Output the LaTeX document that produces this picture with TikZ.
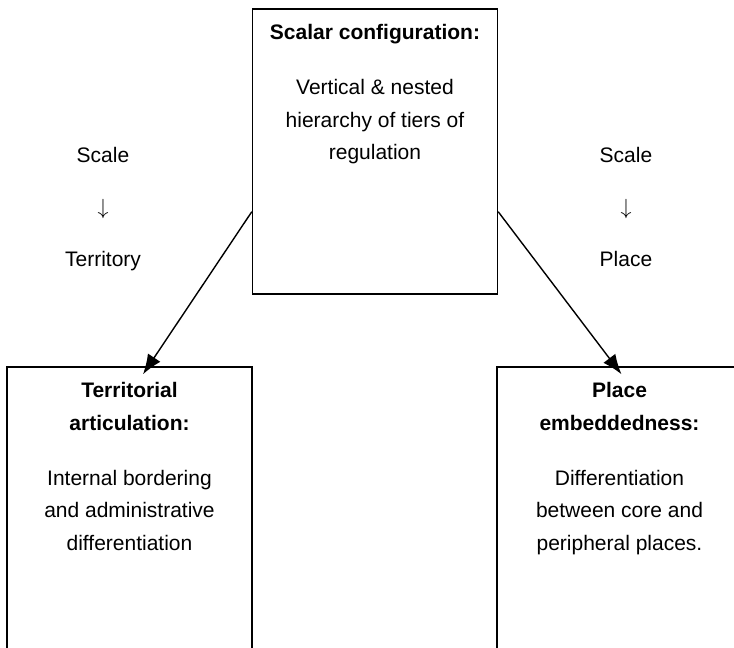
\documentclass[tikz,border=0pt]{standalone}
\usepackage{fontspec}
\setmainfont{Liberation Sans}
\usetikzlibrary{arrows.meta, positioning}

\begin{document}
\begin{tikzpicture}[x=0.5pt, y=-0.5pt, >={Latex[length=10pt,width=7.5pt]}, font=\fontsize{10.5}{16.3}\selectfont]
  \tikzstyle{box} = [draw, rectangle, line width=0.7pt, minimum width=122.5pt]
  \tikzstyle{boxtext} = [align=center, inner sep=0pt]
  \tikzstyle{side} = [align=center, font=\fontsize{10.5}{26}\selectfont]
  \path [use as bounding box, clip] (0,0) rectangle (734,648);

  \node [box, minimum height=142.5pt] (scalar) at (375,151.5) {};
  \node [box, minimum height=166.5pt] (terr) at (129.5,533.5) {};
  \node [box, minimum height=166.5pt] (place) at (619.5,533.5) {};

  \node [boxtext, below=8pt of scalar.north] (scalartxt) {\textbf{Scalar configuration:}\\[11pt] Vertical \& nested\\ hierarchy of tiers of\\ regulation};
  \node [boxtext, below=8pt of terr.north] (terrtxt) {\textbf{Territorial}\\ \textbf{articulation:}\\[11pt] Internal bordering\\ and administrative\\ differentiation};
  \node [boxtext, below=8pt of place.north] (placetxt) {\textbf{Place}\\ \textbf{embeddedness:}\\[11pt] Differentiation\\ between core and\\ peripheral places.};

  % scale -> territory / place
  \node [side] (scaleterr) at (103,209) {Scale\\ $\downarrow$\\ Territory};
  \node [side] (scaleplace) at (626,207) {Scale\\ $\downarrow$\\ Place};

  \coordinate (scalarL) at ([yshift=41.5pt]scalar.south west);
  \coordinate (scalarR) at ([yshift=41.5pt]scalar.south east);
  \draw [->, line width=0.7pt] (scalarL) -- ([xshift=6.75pt,yshift=-4pt]terr.north);
  \draw [->, line width=0.7pt] (scalarR) -- ([xshift=1pt,yshift=-4pt]place.north);
\end{tikzpicture}
\end{document}
